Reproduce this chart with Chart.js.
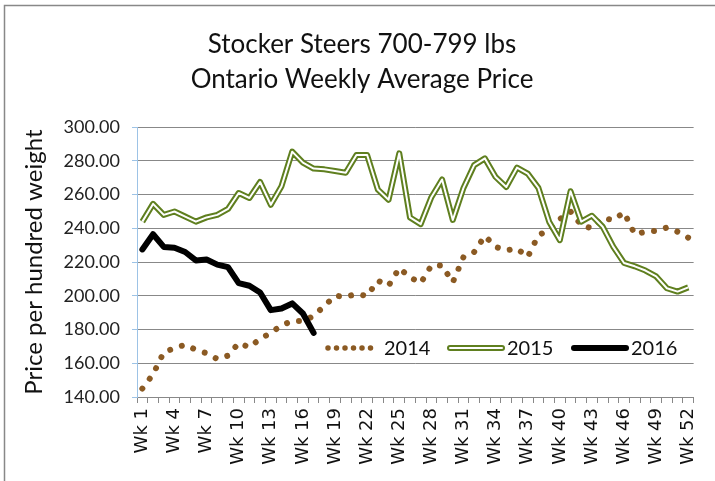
<!DOCTYPE html>
<html>
<head>
<meta charset="utf-8">
<script src="https://cdn.jsdelivr.net/npm/chart.js@4/dist/chart.umd.min.js"></script>
<style>
  body { margin: 0; background: #fff; }
  #wrap { width: 715px; height: 481px; }
</style>
</head>
<body>
<div id="wrap"><canvas id="chart" width="715" height="481"></canvas></div>
<script>
// weekly prices ($ per hundred weight)
var weeks = [];
for (var w = 1; w <= 52; w++) weeks.push('Wk ' + w);

var prices2014 = [145, 153.5, 166.5, 169, 171, 168, 166, 162.5, 164.5, 172, 169.5, 174.5, 178,
    182.5, 185, 185, 188, 194, 200, 199.5, 201, 200, 209, 206, 216.5, 211, 207.5, 218, 218, 208,
    223, 226, 235.5, 229, 227, 228, 223, 236, 239, 245.5, 250, 242, 240, 246, 245, 249.5, 236.5,
    238, 238.5, 240.5, 238, 234.5];
var prices2015 = [244, 254.5, 248, 250, 247, 244, 246.5, 248, 251.5, 261, 258, 267.5, 254, 265,
    285.5, 279, 275.5, 275, 274, 273, 283.5, 283.5, 263, 257, 284.5, 246.5, 242.5, 258.5, 269, 245,
    264, 277.5, 281.5, 270.5, 264.5, 276, 272.5, 264, 244, 233, 262, 244, 247.5, 241, 229, 219.5,
    217.5, 215, 211.5, 204.5, 202.5, 205];
var prices2016 = [227.5, 236.5, 229, 228.5, 226, 221, 221.5, 218.5, 217, 207.5, 206, 202, 191.5,
    192.5, 195.5, 189.5, 178];

var seriesNames = ['2014', '2015', '2016'];
var yMin = 140, yMax = 300, yStep = 20;

const brown = '#8B5A23';
const olive = '#5F7F1F';

// frame lines + legend drawn inside the plot like the original
var extras = {
    id: 'extras',
    afterDraw: function(chart){
        var ctx = chart.ctx;
        ctx.save();
        ctx.strokeStyle = '#888';
        ctx.lineWidth = 1.5;
        ctx.beginPath();
        ctx.moveTo(4.5, 481);
        ctx.lineTo(4.5, 5.5);
        ctx.lineTo(715, 5.5);
        ctx.stroke();

        var y = 348;
        ctx.lineCap = 'round';
        // 2014
        ctx.strokeStyle = brown;
        ctx.lineWidth = 5.5;
        ctx.setLineDash([0.001, 8.5]);
        ctx.beginPath(); ctx.moveTo(328, y); ctx.lineTo(376, y); ctx.stroke();
        ctx.setLineDash([]);
        // 2015
        ctx.strokeStyle = olive;
        ctx.lineWidth = 6;
        ctx.beginPath(); ctx.moveTo(450, y); ctx.lineTo(502, y); ctx.stroke();
        ctx.strokeStyle = '#fff';
        ctx.lineWidth = 2;
        ctx.beginPath(); ctx.moveTo(450, y); ctx.lineTo(502, y); ctx.stroke();
        // 2016
        ctx.strokeStyle = '#000';
        ctx.lineWidth = 6;
        ctx.beginPath(); ctx.moveTo(574, y); ctx.lineTo(626, y); ctx.stroke();

        ctx.fillStyle = '#111';
        ctx.font = '20px Lato';
        ctx.textBaseline = 'middle';
        ctx.fillText(seriesNames[0], 384, y + 1);
        ctx.fillText(seriesNames[1], 507, y + 1);
        ctx.fillText(seriesNames[2], 631, y + 1);
        ctx.restore();
    }
};

var ctx = document.getElementById('chart').getContext('2d');
var chart = new Chart(ctx, {
    type: 'line',
    data: {
        labels: weeks,
        datasets: [{
            label: seriesNames[2],
            data: prices2016,
            borderColor: '#000',
            borderWidth: 6,
            borderJoinStyle: 'round',
            borderCapStyle: 'round',
            pointRadius: 0,
            tension: 0,
            order: 0
        }, {
            label: seriesNames[1] + ' inner',
            data: prices2015,
            borderColor: '#fff',
            borderWidth: 2,
            borderJoinStyle: 'round',
            pointRadius: 0,
            tension: 0,
            order: 1
        }, {
            label: seriesNames[1],
            data: prices2015,
            borderColor: olive,
            borderWidth: 6,
            borderJoinStyle: 'round',
            pointRadius: 0,
            tension: 0,
            order: 2
        }, {
            label: seriesNames[0],
            data: prices2014,
            borderColor: brown,
            borderWidth: 6,
            borderDash: [0.001, 12.3],
            borderCapStyle: 'round',
            pointRadius: 0,
            tension: 0,
            order: 3
        }]
    },
    options: {
        responsive: false,
        animation: false,
        layout: { padding: { left: 21, right: 12, bottom: 0 } },
        plugins: {
            legend: { display: false },
            tooltip: { enabled: false },
            title: {
                display: true,
                text: ['Stocker Steers 700-799 lbs', 'Ontario Weekly Average Price'],
                color: '#111',
                font: { family: 'Lato', size: 26, weight: 'normal', lineHeight: 1.35 },
                padding: { top: 27, bottom: 30 }
            }
        },
        scales: {
            x: {
                type: 'category',
                offset: true,
                afterFit: function(scale){ scale.height = 84; },
                grid: {
                    offset: true,
                    drawOnChartArea: false,
                    color: '#888',
                    tickLength: 6
                },
                border: { color: '#888' },
                ticks: {
                    autoSkip: false,
                    minRotation: 90,
                    maxRotation: 90,
                    padding: 5,
                    color: '#111',
                    font: { family: 'DejaVu Sans', size: 18 },
                    callback: function(value, index){
                        return index % 3 === 0 ? weeks[index] : '';
                    }
                }
            },
            y: {
                min: yMin,
                max: yMax,
                afterFit: function(scale){ scale.width = 116; },
                grid: {
                    color: '#888',
                    tickColor: '#9DC3E6',
                    tickLength: 5
                },
                border: { color: '#9DC3E6' },
                ticks: {
                    stepSize: yStep,
                    padding: 12,
                    color: '#222',
                    font: { family: 'Lato', size: 18 },
                    callback: function(value){ return value.toFixed(2); }
                },
                title: {
                    display: true,
                    text: 'Price per hundred weight',
                    color: '#111',
                    font: { family: 'Lato', size: 24, lineHeight: 1.1 },
                    padding: { top: 0, bottom: 0 }
                }
            }
        }
    },
    plugins: [extras]
});
</script>
</body>
</html>
